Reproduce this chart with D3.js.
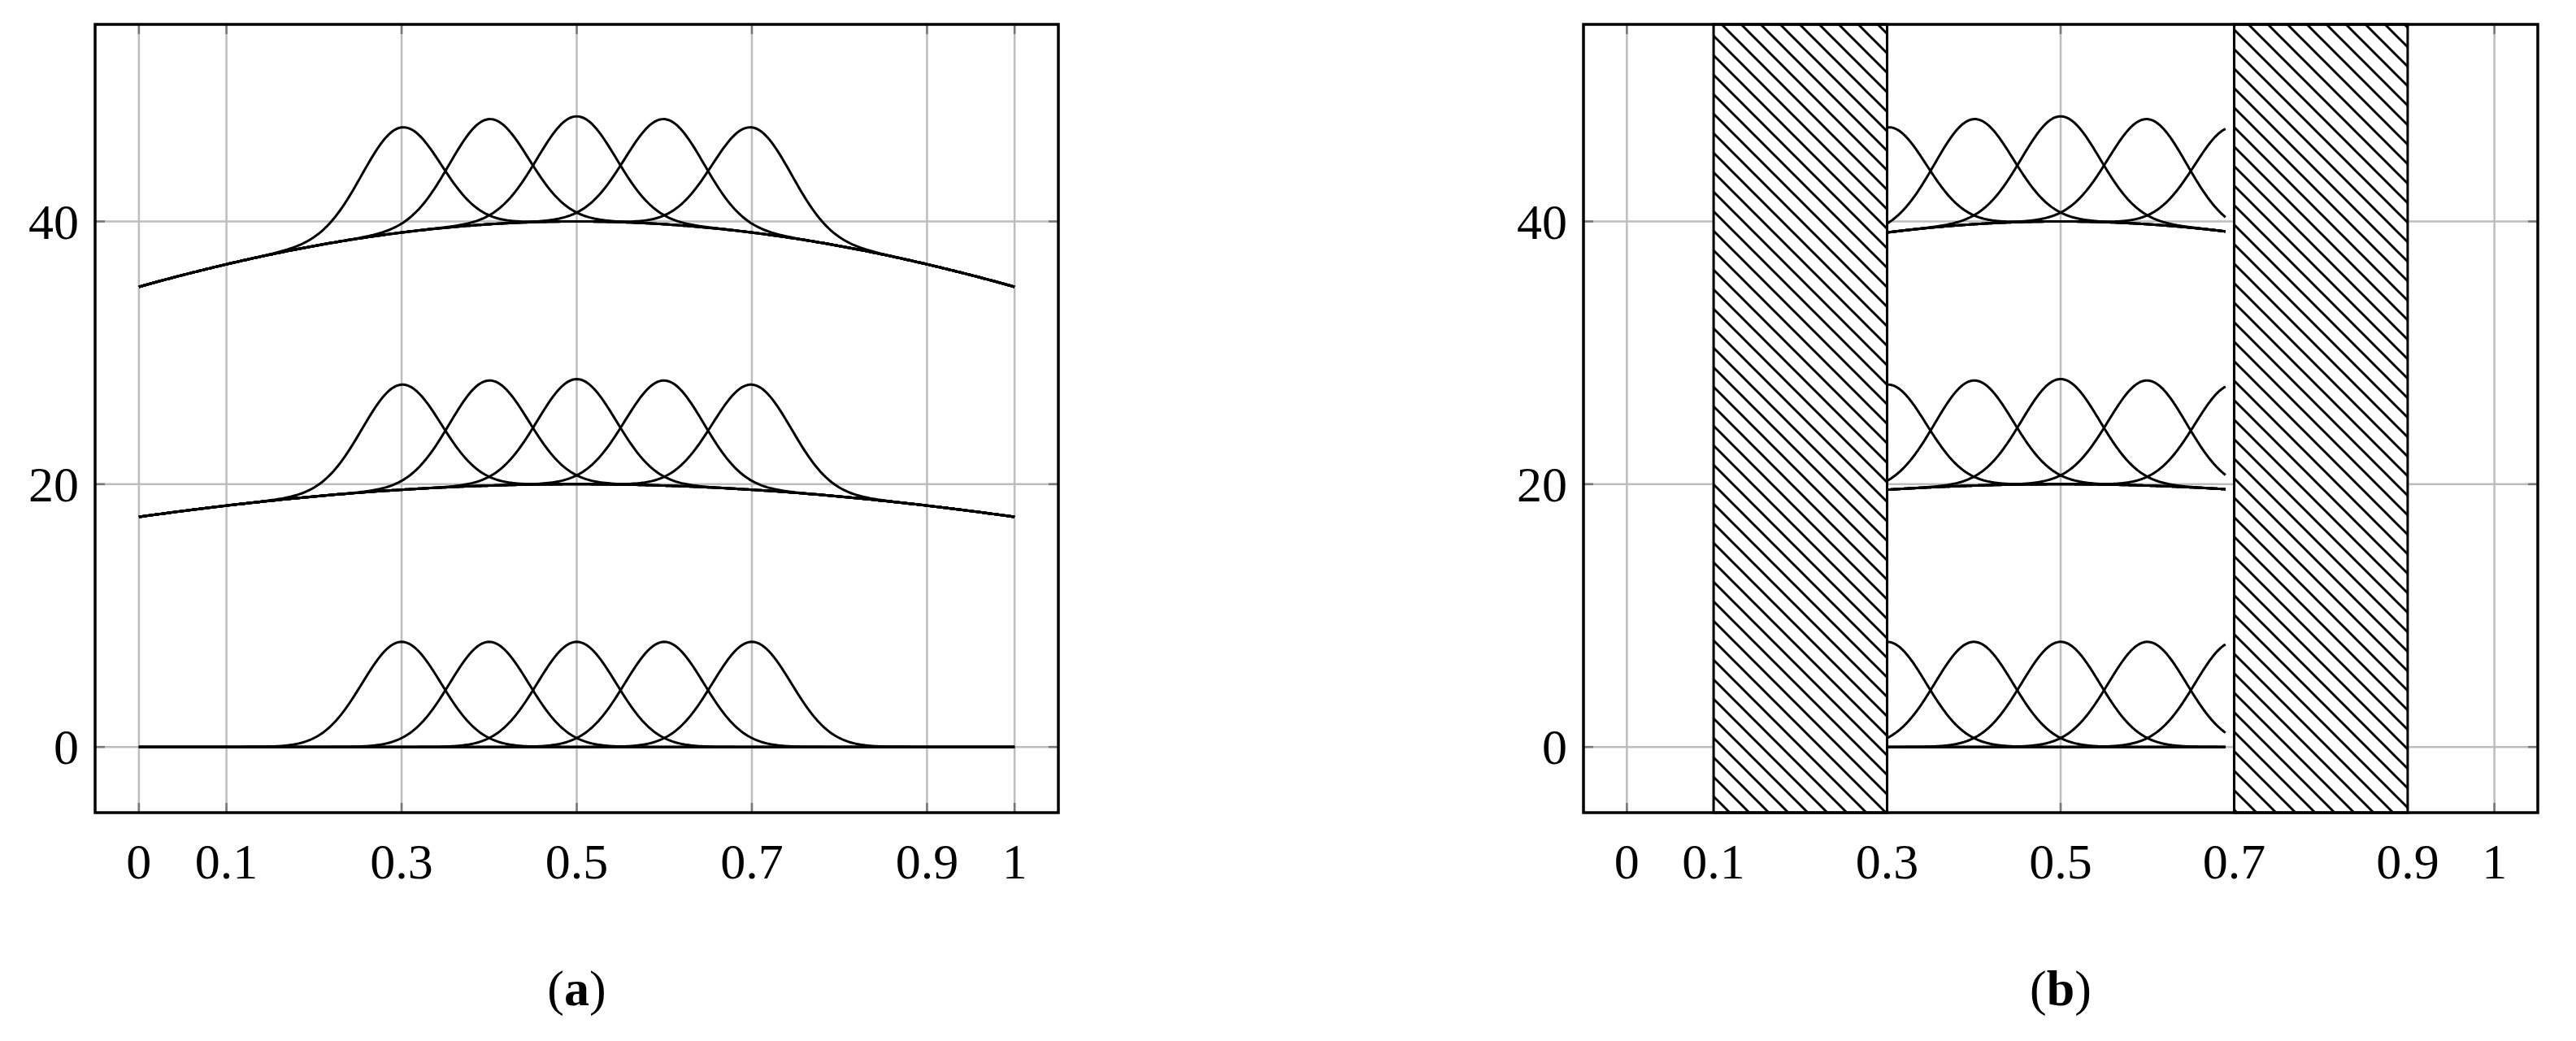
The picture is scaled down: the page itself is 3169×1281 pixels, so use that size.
<!DOCTYPE html>
<html><head><meta charset="utf-8">
<script src="https://cdn.jsdelivr.net/npm/d3@7"></script>
<style>body{margin:0;background:#fff}</style></head>
<body><svg id="c" width="3169" height="1281"></svg>
<script>
// ---- data ----
const xTicks = [0, 0.1, 0.3, 0.5, 0.7, 0.9, 1];
const xTickLabels = ["0", "0.1", "0.3", "0.5", "0.7", "0.9", "1"];
const yTicks = [0, 20, 40];
const bumpCenters = [0.3, 0.4, 0.5, 0.6, 0.7];
const bumpHeight = 8;          // height of each narrow bump
const bumpWidth = 0.045;       // std-dev of narrow bumps
const baseLevels = [0, 20, 40]; // peak of the broad base curve of each group
const baseWidth = 0.97;        // std-dev of broad base curve
const hatchRegions = [[0.1, 0.3], [0.7, 0.9]];
const panelBRange = [0.3, 0.69];
const captions = ["a", "b"];

(function(){
const svg = d3.select("#c");
const defs = svg.append("defs");
const pat = defs.append("pattern").attr("id","hatch").attr("patternUnits","userSpaceOnUse")
  .attr("width",24).attr("height",24);
pat.append("rect").attr("width",24).attr("height",24).attr("fill","#fff");
pat.append("path").attr("d","M-6,-6L30,30M-6,18L6,30M18,-6L30,6").attr("stroke","#000").attr("stroke-width",3);

const panels = [{left:117, right:1302, xr:[0,1], hatch:false},
                {left:1948, right:3122, xr:panelBRange, hatch:true}];
const pTop = 30, pBottom = 1000;

function base(x, lvl){ return lvl * Math.exp(-((x-0.5)**2)/(2*baseWidth*baseWidth)); }
function bump(x, c){ return bumpHeight * Math.exp(-((x-c)**2)/(2*bumpWidth*bumpWidth)); }

panels.forEach((p, i) => {
  const x = d3.scaleLinear().domain([-0.05, 1.05]).range([p.left, p.right]);
  const y = d3.scaleLinear().domain([-5, 55]).range([pBottom, pTop]);
  const g = svg.append("g");
  defs.append("clipPath").attr("id","clip"+i).append("rect")
    .attr("x",p.left).attr("y",pTop).attr("width",p.right-p.left).attr("height",pBottom-pTop);
  g.selectAll(".gx").data(xTicks).join("line").attr("x1",d=>x(d)).attr("x2",d=>x(d))
    .attr("y1",pTop).attr("y2",pBottom).attr("stroke","#bdbdbd").attr("stroke-width",2.5);
  g.selectAll(".gy").data(yTicks).join("line").attr("y1",d=>y(d)).attr("y2",d=>y(d))
    .attr("x1",p.left).attr("x2",p.right).attr("stroke","#bdbdbd").attr("stroke-width",2.5);
  const tk = 12;
  xTicks.forEach(t => {
    g.append("line").attr("x1",x(t)).attr("x2",x(t)).attr("y1",pBottom).attr("y2",pBottom-tk).attr("stroke","#777").attr("stroke-width",2.5);
    g.append("line").attr("x1",x(t)).attr("x2",x(t)).attr("y1",pTop).attr("y2",pTop+tk).attr("stroke","#777").attr("stroke-width",2.5);
  });
  yTicks.forEach(t => {
    g.append("line").attr("y1",y(t)).attr("y2",y(t)).attr("x1",p.left).attr("x2",p.left+tk).attr("stroke","#777").attr("stroke-width",2.5);
    g.append("line").attr("y1",y(t)).attr("y2",y(t)).attr("x1",p.right).attr("x2",p.right-tk).attr("stroke","#777").attr("stroke-width",2.5);
  });
  if (p.hatch) {
    hatchRegions.forEach(r => {
      g.append("rect").attr("x",x(r[0])).attr("y",pTop).attr("width",x(r[1])-x(r[0])).attr("height",pBottom-pTop)
        .attr("fill","url(#hatch)").attr("stroke","#000").attr("stroke-width",3);
    });
  }
  const xs = d3.range(0, 401).map(k => p.xr[0] + (p.xr[1]-p.xr[0])*k/400);
  const line = d3.line().x(d=>x(d[0])).y(d=>y(d[1]));
  const cg = g.append("g").attr("clip-path","url(#clip"+i+")");
  baseLevels.forEach(lvl => {
    cg.append("path").attr("d", line(xs.map(v=>[v, base(v,lvl)])))
      .attr("fill","none").attr("stroke","#000").attr("stroke-width",3);
    bumpCenters.forEach(c => {
      cg.append("path").attr("d", line(xs.map(v=>[v, base(v,lvl)+bump(v,c)])))
        .attr("fill","none").attr("stroke","#000").attr("stroke-width",3);
    });
  });
  g.append("rect").attr("x",p.left).attr("y",pTop).attr("width",p.right-p.left).attr("height",pBottom-pTop)
    .attr("fill","none").attr("stroke","#000").attr("stroke-width",3.5);
  const font = "'Liberation Serif', 'DejaVu Serif', serif";
  g.selectAll(".xl").data(xTicks).join("text").attr("x",d=>x(d)).attr("y",1081)
    .attr("text-anchor","middle").attr("font-family",font).attr("font-size",62).text((d,k)=>xTickLabels[k]);
  g.selectAll(".yl").data(yTicks).join("text").attr("x",p.left-20).attr("y",d=>y(d)+21)
    .attr("text-anchor","end").attr("font-family",font).attr("font-size",62).text(d=>d);
  const cap = g.append("text").attr("x",(p.left+p.right)/2).attr("y",1237).attr("text-anchor","middle")
    .attr("font-family",font).attr("font-size",62);
  cap.append("tspan").text("(");
  cap.append("tspan").attr("font-weight","bold").text(captions[i]);
  cap.append("tspan").text(")");
});
})();
</script></body></html>
